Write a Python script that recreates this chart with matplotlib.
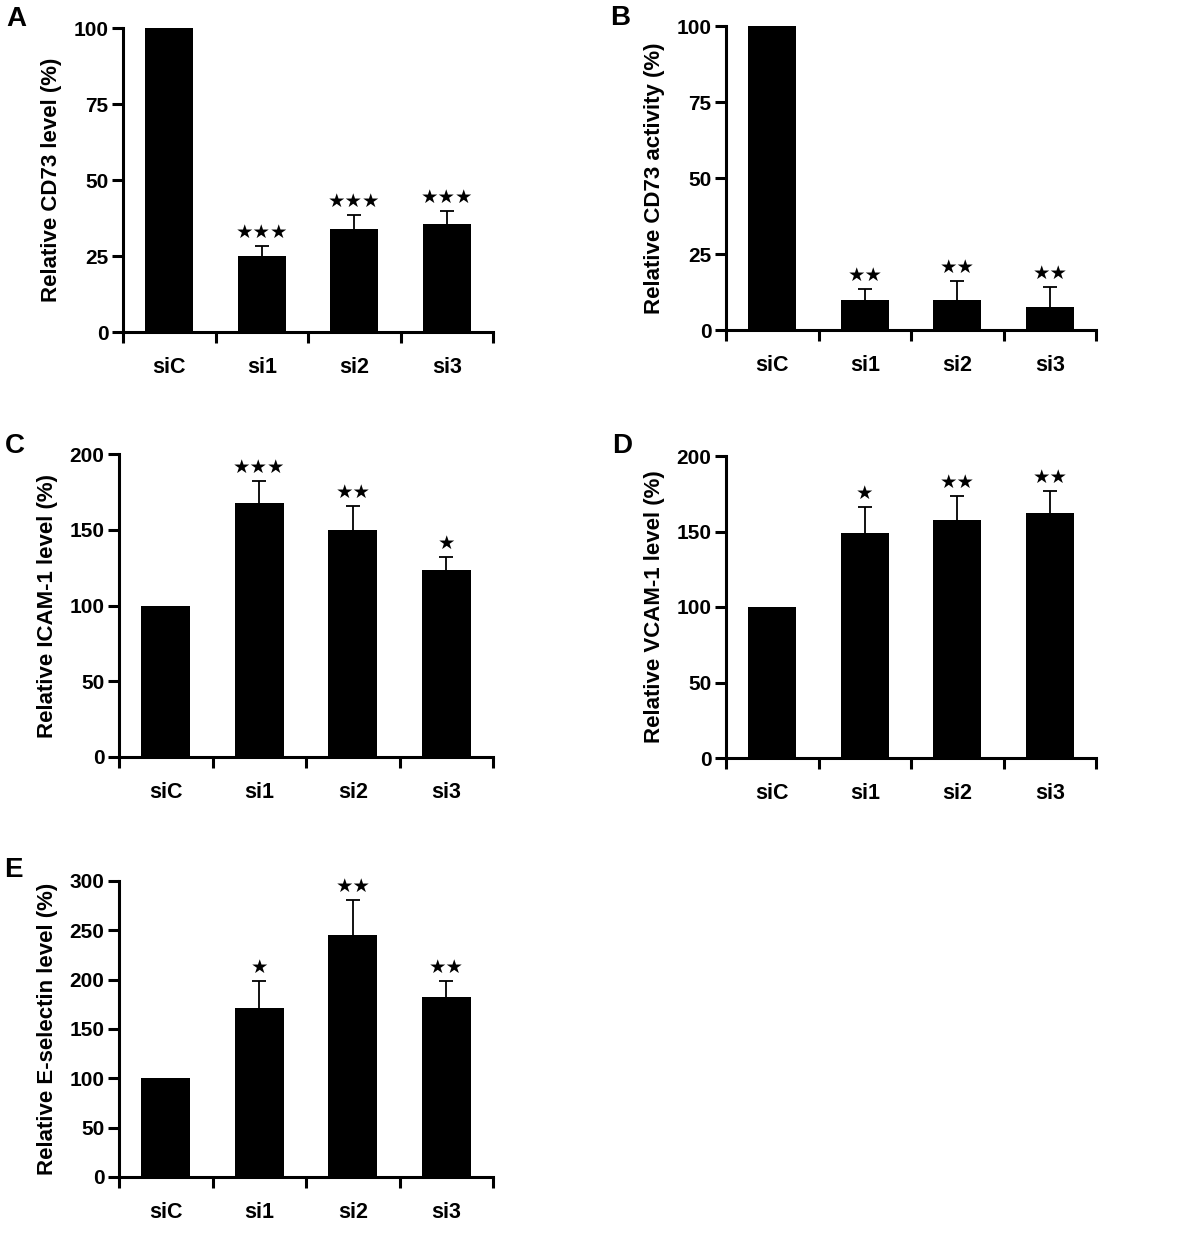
import matplotlib
matplotlib.use("Agg")
import matplotlib.pyplot as plt
import numpy as np

plt.rcParams['font.family'] = ['Liberation Sans', 'DejaVu Sans']

categories = ['siC', 'si1', 'si2', 'si3']

a_vals = [100, 25, 34, 35.5]
a_err = [0, 3.2, 4.5, 4.3]
a_stars = ['', '★★★', '★★★', '★★★']

b_vals = [100, 10, 10, 7.7]
b_err = [0, 3.6, 6.0, 6.5]
b_stars = ['', '★★', '★★', '★★']

c_vals = [100, 167.5, 150, 123.5]
c_err = [0, 14.7, 15.4, 8.5]
c_stars = ['', '★★★', '★★', '★']

d_vals = [100, 149, 157.6, 162]
d_err = [0, 17, 16, 14.5]
d_stars = ['', '★', '★★', '★★']

e_vals = [100, 171, 245, 182]
e_err = [0, 27.5, 35.5, 16.5]
e_stars = ['', '★', '★★', '★★']

W, H = 1200, 1239
fig = plt.figure(figsize=(W / 100, H / 100), dpi=100)


def make_axes(left, top, right, bottom):
    return fig.add_axes([left / W, 1 - bottom / H, (right - left) / W, (bottom - top) / H])


panels = [
    ('A', make_axes(123, 28, 493, 332), a_vals, a_err, a_stars, 100, [0, 25, 50, 75, 100],
     'Relative CD73 level (%)', (6, 19)),
    ('B', make_axes(726, 26, 1096, 330), b_vals, b_err, b_stars, 100, [0, 25, 50, 75, 100],
     'Relative CD73 activity (%)', (610, 18)),
    ('C', make_axes(119, 454, 493, 757), c_vals, c_err, c_stars, 200, [0, 50, 100, 150, 200],
     'Relative ICAM-1 level (%)', (5, 446)),
    ('D', make_axes(726, 456, 1096, 758), d_vals, d_err, d_stars, 200, [0, 50, 100, 150, 200],
     'Relative VCAM-1 level (%)', (612, 446)),
    ('E', make_axes(119, 881, 493, 1177), e_vals, e_err, e_stars, 300, [0, 50, 100, 150, 200, 250, 300],
     'Relative E-selectin level (%)', (4, 870)),
]

for letter, ax, vals, err, stars, ymax, yticks, ylabel, lpos in panels:
    x = np.arange(len(categories))
    ax.bar(x, vals, width=0.52, color='black', edgecolor='black', linewidth=0, zorder=2)
    idx = [i for i, e in enumerate(err) if e > 0]
    eb = ax.errorbar(x[idx], [vals[i] for i in idx], yerr=[[0] * len(idx), [err[i] for i in idx]],
                     fmt='none', ecolor='black', elinewidth=1.3, capsize=5, capthick=1.3, zorder=1)
    caps = eb[1]
    if len(caps) == 2:
        caps[0].set_visible(False)
    for i, s in enumerate(stars):
        if s:
            ax.annotate(s, xy=(x[i], vals[i] + err[i]), xytext=(0, 3), textcoords='offset points',
                        ha='center', va='bottom', fontsize=14, family=['DejaVu Sans'],
                        annotation_clip=False)
    ax.set_xlim(-0.5, 3.5)
    ax.set_ylim(0, ymax)
    ax.set_yticks(yticks)
    ax.set_yticklabels([str(t) for t in yticks], fontsize=15, fontweight='bold')
    ax.set_xticks(x)
    ax.set_xticklabels(categories, fontsize=15.5, fontweight='bold')
    ax.set_xticks([-0.5, 0.5, 1.5, 2.5, 3.5], minor=True)
    ax.tick_params(axis='x', which='major', length=0, pad=18)
    ax.tick_params(axis='x', which='minor', length=8, width=2.2, direction='out')
    ax.tick_params(axis='y', which='major', length=8, width=2.2, direction='out', pad=2.5)
    for sp in ['top', 'right']:
        ax.spines[sp].set_visible(False)
    for sp in ['left', 'bottom']:
        ax.spines[sp].set_linewidth(2.2)
    ax.set_ylabel(ylabel, fontsize=16, fontweight='bold', labelpad=8)
    fig.text(lpos[0] / W, 1 - lpos[1] / H, letter, fontsize=20, fontweight='bold',
             ha='left', va='center')

fig.savefig('out.png', dpi=100)
